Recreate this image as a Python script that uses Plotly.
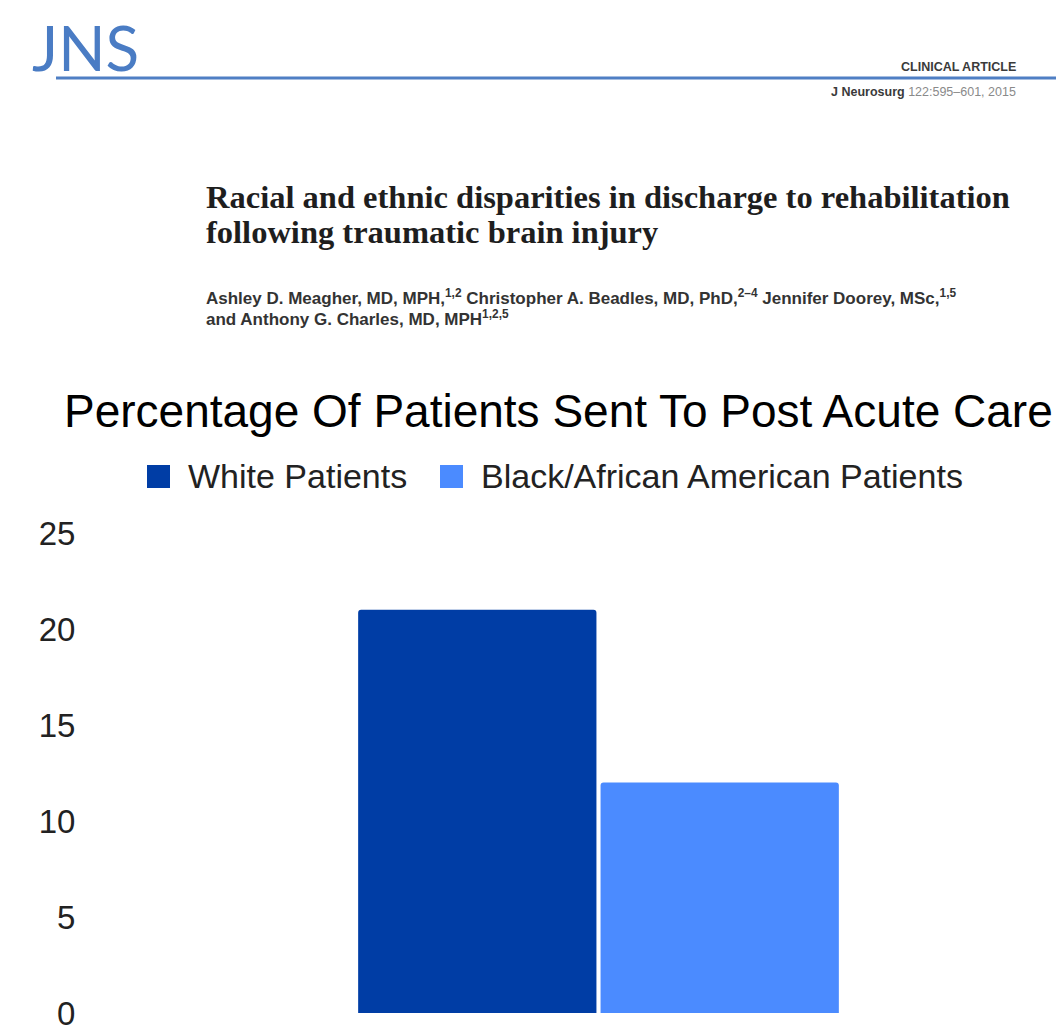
import plotly.graph_objects as go

# Canvas and plot-area margins (pixels)
W, H = 1056, 1031
M = dict(l=88, r=0, t=533, b=18)

# Chart data
categories = ["Post Acute Care"]
series_names = ["White Patients", "Black/African American Patients"]
white_pct = [21]
black_pct = [12]
series_colors = ["#003da5", "#4b8bff"]
y_ticks = [0, 5, 10, 15, 20, 25]

chart_title = "Percentage Of Patients Sent To Post Acute Care"

# Article header text
journal_logo = "JNS"
article_type = "CLINICAL ARTICLE"
journal_ref = "<b>J Neurosurg</b> <span style='color:#8a8a8a'>122:595–601, 2015</span>"
article_title_lines = [
    "Racial and ethnic disparities in discharge to rehabilitation",
    "following traumatic brain injury",
]
author_lines = [
    "Ashley D. Meagher, MD, MPH,<sup>1,2</sup> Christopher A. Beadles, MD, PhD,<sup>2–4</sup> "
    "Jennifer Doorey, MSc,<sup>1,5</sup>",
    "and Anthony G. Charles, MD, MPH<sup>1,2,5</sup>",
]


def px_x(px):
    """Pixel column -> paper x."""
    return (px - M["l"]) / (W - M["l"] - M["r"])


def px_y(py):
    """Pixel row -> paper y."""
    return 1 - (py - M["t"]) / (H - M["t"] - M["b"])


def note(text, x, y, xanchor, size, family, color):
    return dict(text=text, x=px_x(x), y=px_y(y), xref="paper", yref="paper",
                xanchor=xanchor, yanchor="middle", showarrow=False,
                font=dict(family=family, size=size, color=color))


fig = go.Figure()
for name, vals, color in zip(series_names, [white_pct, black_pct], series_colors):
    fig.add_trace(go.Bar(
        x=categories, y=vals, name=name,
        marker=dict(color=color, line=dict(width=0)),
        showlegend=False, hoverinfo="y+name",
    ))

annotations = []
shapes = []

# Journal header
annotations.append(note(journal_logo, 30, 47, "left", 62, "Lato", "#4a7cc4"))
shapes.append(dict(type="line", xref="paper", yref="paper", x0=px_x(56), x1=px_x(1060),
                   y0=px_y(78), y1=px_y(78), line=dict(color="#4f7fc4", width=3)))
annotations.append(note("<b>" + article_type + "</b>", 1018, 67, "right", 12.5, "Liberation Sans", "#3a3a3a"))
annotations.append(note(journal_ref, 1018, 92, "right", 12.5, "Liberation Sans", "#3a3a3a"))

for i, line in enumerate(article_title_lines):
    annotations.append(note("<b>" + line + "</b>", 204, 197 + 35 * i, "left", 32.5,
                            "Liberation Serif", "#1e1e1e"))
for i, line in enumerate(author_lines):
    annotations.append(note("<b>" + line + "</b>", 204, 297 + 21 * i, "left", 17,
                            "Liberation Sans", "#333333"))

# Chart title
annotations.append(note(chart_title, 62, 411, "left", 46, "Liberation Sans", "#000000"))

# Legend: colour swatch + label for each series
legend_swatch_x = [147, 440]
for sx, name, color in zip(legend_swatch_x, series_names, series_colors):
    shapes.append(dict(type="rect", xref="paper", yref="paper", x0=px_x(sx), x1=px_x(sx + 23),
                       y0=px_y(488), y1=px_y(465), fillcolor=color, line=dict(width=0)))
    annotations.append(note(name, sx + 39, 476, "left", 34, "Liberation Sans", "#222222"))

fig.update_layout(
    width=W, height=H,
    margin=M,
    paper_bgcolor="white", plot_bgcolor="white",
    barmode="group", bargap=0.496, bargroupgap=0.017, barcornerradius=3,
    xaxis=dict(range=[-0.5307, 0.4756], showticklabels=False, showgrid=False, zeroline=False,
               showline=False, ticks=""),
    yaxis=dict(range=[0, 25], tickvals=y_ticks, ticktext=[str(v) for v in y_ticks],
               showgrid=False, zeroline=False, showline=False,
               ticks="outside", ticklen=5, tickcolor="rgba(0,0,0,0)",
               ticklabeloverflow="allow",
               tickfont=dict(family="Liberation Sans", size=33, color="#222222")),
    annotations=annotations, shapes=shapes,
    font=dict(family="Liberation Sans"),
)

fig.write_html("out.html")
